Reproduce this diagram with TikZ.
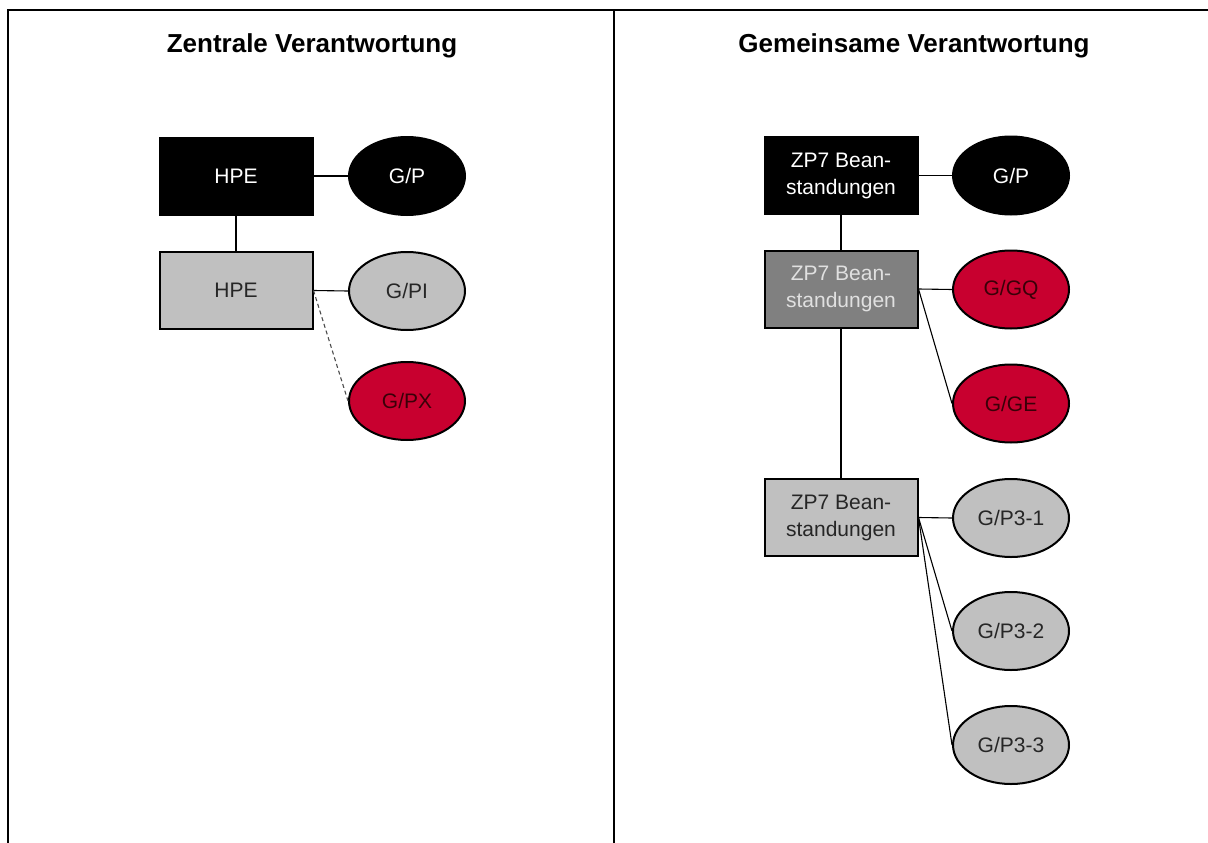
\documentclass[tikz,border=0pt]{standalone}
\usepackage{fontspec}
\setmainfont{Liberation Sans}
\usetikzlibrary{shapes.geometric}
\definecolor{lgrey}{HTML}{C0C0C0}
\definecolor{dgrey}{HTML}{808080}
\definecolor{crimson}{HTML}{C8002F}
\definecolor{darkred}{HTML}{3A0008}
\begin{document}
\begin{tikzpicture}[x=1pt,y=-1pt,
  box/.style={rectangle,draw=black,line width=2pt,minimum width=153pt,minimum height=77pt,
    inner sep=0pt,align=center,font=\fontsize{21}{27}\selectfont},
  oval/.style={ellipse,draw=black,line width=2pt,minimum width=116pt,minimum height=78pt,
    inner sep=0pt,font=\fontsize{21}{27}\selectfont},
  blackfill/.style={fill=black,text=white},
  lightfill/.style={fill=lgrey,text=black!85},
  darkfill/.style={fill=dgrey,text=black!12},
  redfill/.style={fill=crimson,text=darkred},
  thin link/.style={line width=1.1pt},
  thick link/.style={line width=2.4pt},
  soft link/.style={line width=1.1pt,draw=black!70,dash pattern=on 4pt off 3pt},
  frame/.style={line width=2.6pt},
  heading/.style={font=\bfseries\fontsize{26}{30}\selectfont}]
\useasboundingbox (0,0) rectangle (1208,843);

% outer frame and column divider
\draw[frame] (8,843) -- (8,10) -- (1208,10);
\draw[frame] (614,10) -- (614,843);

% column headings
\node[heading] (t1) at (312,46) {Zentrale Verantwortung};
\node[heading] (t2) at (914,46) {Gemeinsame Verantwortung};

% left column
\node[box,blackfill] (hpe1) at (236,176) {HPE};
\node[oval,blackfill] (gp1) at (407,176) {G/P};
\node[box,lightfill] (hpe2) at (236,290.5) {HPE};
\node[oval,lightfill] (gpi) at (407,291) {G/PI};
\node[oval,redfill] (gpx) at (407,401) {G/PX};

\draw[thin link] (hpe1.east) -- (gp1.west);
\draw[thick link] (hpe1.south) -- (hpe2.north);
\draw[thin link] (hpe2.east) -- (gpi.west);
\draw[soft link] (hpe2.east) -- (gpx.west);

% right column
\node[box,blackfill] (zp1) at (841,175.5) {ZP7 Bean-\\standungen};
\node[oval,blackfill] (gp2) at (1011,175.5) {G/P};
\node[box,darkfill] (zp2) at (841,289) {ZP7 Bean-\\standungen};
\node[oval,redfill] (ggq) at (1011,289.5) {G/GQ};
\node[oval,redfill] (gge) at (1011,403.5) {G/GE};
\node[box,lightfill] (zp3) at (841,517.5) {ZP7 Bean-\\standungen};
\node[oval,lightfill] (p31) at (1011,518) {G/P3-1};
\node[oval,lightfill] (p32) at (1011,631) {G/P3-2};
\node[oval,lightfill] (p33) at (1011,745) {G/P3-3};

\draw[thin link] (zp1.east) -- (gp2.west);
\draw[thick link] (zp1.south) -- (zp2.north);
\draw[thin link] (zp2.east) -- (ggq.west);
\draw[thin link] (zp2.east) -- (gge.west);
\draw[thick link] (zp2.south) -- (zp3.north);
\draw[thin link] (zp3.east) -- (p31.west);
\draw[thin link] (zp3.east) -- (p32.west);
\draw[thin link] (zp3.east) -- (p33.west);
\end{tikzpicture}
\end{document}
